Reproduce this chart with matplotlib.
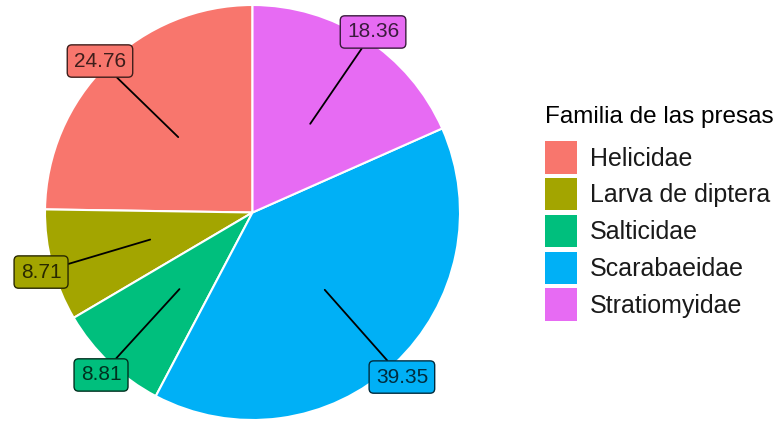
import matplotlib.pyplot as plt
import matplotlib.colors as mcolors
import numpy as np
from matplotlib.patches import Patch

plt.rcParams['font.family'] = ['Liberation Sans', 'DejaVu Sans']

# Porcentaje de cada familia en la dieta
familias = ['Helicidae', 'Larva de diptera', 'Salticidae', 'Scarabaeidae', 'Stratiomyidae']
porcentajes = [24.76, 8.71, 8.81, 39.35, 18.36]
colores = ['#F8766D', '#A3A500', '#00BF7D', '#00B0F6', '#E76BF3']

# Posición de cada etiqueta (unidades del radio)
pos_etiquetas = [(-0.735, 0.730), (-1.019, -0.287), (-0.730, -0.783),
                 (0.720, -0.793), (0.581, 0.870)]

W, H = 782, 421
fig = plt.figure(figsize=(W / 100, H / 100), dpi=100)
cx, cy, R = 252.5, 212.5, 207.5
ax = fig.add_axes([(cx - R) / W, (H - cy - R) / H, 2 * R / W, 2 * R / H])

wedges, _ = ax.pie(porcentajes, colors=colores, startangle=90, counterclock=True,
                   radius=1, wedgeprops=dict(edgecolor='white', linewidth=1.5))
ax.set_xlim(-1, 1)
ax.set_ylim(-1, 1)
ax.set_aspect('equal')
ax.axis('off')

for w, val, col, (lx, ly) in zip(wedges, porcentajes, colores, pos_etiquetas):
    ang = np.deg2rad((w.theta1 + w.theta2) / 2)
    px, py = 0.51 * np.cos(ang), 0.51 * np.sin(ang)
    rgb = np.array(mcolors.to_rgb(col))
    oscuro = tuple(rgb * 0.25)
    ax.annotate(f'{val:.2f}', xy=(px, py), xytext=(lx, ly),
                ha='center', va='center', fontsize=15, color=oscuro,
                annotation_clip=False,
                bbox=dict(boxstyle='round,pad=0.32,rounding_size=0.22',
                          fc=col, ec=oscuro, lw=1.0),
                arrowprops=dict(arrowstyle='-', color='black', lw=1.3,
                                shrinkA=0, shrinkB=0))

handles = [Patch(facecolor=c, edgecolor='none') for c in colores]
leg = fig.legend(handles, familias, title='Familia de las presas',
                 loc='upper left', bbox_to_anchor=(545 / W, 1 - 106 / H),
                 frameon=False, fontsize=18, title_fontsize=17.5,
                 handlelength=1.28, handleheight=1.6, labelspacing=0.185,
                 handletextpad=0.52, borderpad=0, borderaxespad=0,
                 alignment='left')
# separación extra entre el título y las claves
leg._legend_box.sep = 9.7
for t in leg.get_texts():
    t.set_color('#1a1a1a')

fig.savefig('out.png', dpi=100)
